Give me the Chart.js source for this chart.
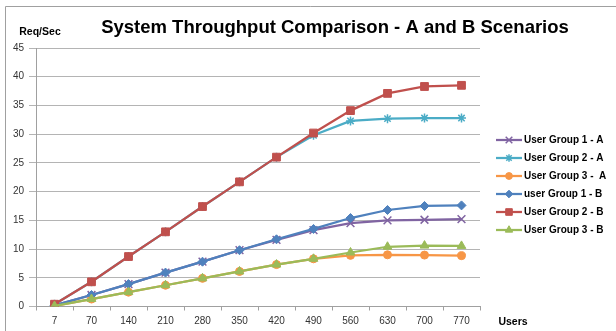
<!DOCTYPE html>
<html>
<head>
<meta charset="utf-8">
<script src="https://cdn.jsdelivr.net/npm/chart.js@4.4.1/dist/chart.umd.min.js"></script>
<style>
  html, body { margin: 0; padding: 0; background: #fff; }
  #wrap { width: 616px; height: 331px; }
</style>
</head>
<body>
<div id="wrap"><canvas id="throughputChart" width="616" height="331"></canvas></div>
<script>
// users on the x axis
var users = ['7', '70', '140', '210', '280', '350', '420', '490', '560', '630', '700', '770'];

// req/sec
var group1A = [0.2, 2.0, 3.9, 5.9, 7.8, 9.8, 11.6, 13.3, 14.5, 15.0, 15.1, 15.2];
var group2A = [0.4, 4.3, 8.7, 13.0, 17.4, 21.7, 26.0, 29.8, 32.3, 32.7, 32.8, 32.8];
var group3A = [0.1, 1.3, 2.5, 3.7, 4.9, 6.1, 7.3, 8.3, 8.9, 9.0, 8.95, 8.85];
var group1B = [0.2, 2.0, 3.9, 5.9, 7.8, 9.8, 11.7, 13.5, 15.4, 16.8, 17.5, 17.6];
var group2B = [0.4, 4.3, 8.7, 13.0, 17.4, 21.7, 26.0, 30.2, 34.1, 37.1, 38.3, 38.5];
var group3B = [0.1, 1.3, 2.5, 3.7, 4.9, 6.1, 7.3, 8.3, 9.4, 10.4, 10.6, 10.55];

var yTicks = [0, 5, 10, 15, 20, 25, 30, 35, 40, 45];

var seriesNames = ['User Group 1 - A', 'User Group 2 - A', 'User Group 3 -  A', 'user Group 1 - B', 'User Group 2 - B', 'User Group 3 - B'];

var fontName = '"Liberation Sans", Arial, sans-serif';

function makeSet(label, data, color, style, radius) {
  return {
    label: label,
    data: data,
    borderColor: color,
    backgroundColor: color,
    borderWidth: 2.25,
    pointStyle: style,
    pointRadius: radius,
    pointHoverRadius: radius,
    pointBorderWidth: (style == 'star' || style == 'crossRot') ? 1.5 : 1,
    pointBackgroundColor: color,
    pointBorderColor: color,
    tension: 0
  };
}

var datasets = [
  makeSet(seriesNames[0], group1A, '#8064A2', 'crossRot', 5.5),
  makeSet(seriesNames[1], group2A, '#4BACC6', 'star', 4.5),
  makeSet(seriesNames[2], group3A, '#F79646', 'circle', 4),
  makeSet(seriesNames[3], group1B, '#4F81BD', 'rectRot', 4.5),
  makeSet(seriesNames[4], group2B, '#C0504D', 'rect', 5.5),
  makeSet(seriesNames[5], group3B, '#9BBB59', 'triangle', 5)
];
// later series drawn on top, like the original
datasets.forEach(function (d, i) { d.order = datasets.length - i; });

var frameAndText = {
  id: 'frameAndText',
  beforeDraw: function (chart) {
    var ctx = chart.ctx;
    ctx.save();
    ctx.fillStyle = '#ffffff';
    ctx.fillRect(0, 0, chart.width, chart.height);
    ctx.strokeStyle = '#a0a0a0';
    ctx.lineWidth = 1;
    ctx.beginPath();
    ctx.moveTo(5.5, 331);
    ctx.lineTo(5.5, 6.5);
    ctx.lineTo(616, 6.5);
    ctx.stroke();
    ctx.restore();
  },
  afterDraw: function (chart) {
    var ctx = chart.ctx;
    ctx.save();
    ctx.fillStyle = '#000';
    ctx.textAlign = 'center';
    ctx.textBaseline = 'alphabetic';
    ctx.font = 'bold 18.5px ' + fontName;
    ctx.fillText('System Throughput Comparison - A and B Scenarios', 335, 33);
    ctx.font = 'bold 10.5px ' + fontName;
    ctx.fillText('Req/Sec', 40, 35);
    ctx.fillText('Users', 513, 325);

    // legend: line with marker, then label
    ctx.font = 'bold 10px ' + fontName;
    ctx.textAlign = 'left';
    ctx.textBaseline = 'middle';
    chart.data.datasets.forEach(function (ds, i) {
      var y = 140 + i * 18;
      ctx.strokeStyle = ds.borderColor;
      ctx.lineWidth = 2.25;
      ctx.beginPath();
      ctx.moveTo(496, y);
      ctx.lineTo(522, y);
      ctx.stroke();
      if (Chart.helpers && Chart.helpers.drawPoint) {
        ctx.fillStyle = ds.backgroundColor;
        ctx.lineWidth = ds.pointBorderWidth;
        Chart.helpers.drawPoint(ctx, {
          pointStyle: ds.pointStyle,
          radius: ds.pointRadius * 0.85,
          rotation: 0,
          borderWidth: ds.pointBorderWidth
        }, 509, y);
      }
      ctx.fillStyle = '#000';
      ctx.fillText(ds.label, 524, y + 0.5);
    });
    ctx.restore();
  }
};

new Chart(document.getElementById('throughputChart'), {
  type: 'line',
  data: { labels: users, datasets: datasets },
  options: {
    responsive: false,
    animation: false,
    devicePixelRatio: 1,
    layout: { padding: { left: 0, top: 48, right: 136, bottom: 0 } },
    plugins: {
      legend: { display: false },
      title: { display: false },
      tooltip: { enabled: false }
    },
    scales: {
      x: {
        type: 'category',
        offset: true,
        grid: {
          offset: true,
          drawOnChartArea: false,
          drawTicks: true,
          tickLength: 4,
          color: '#a0a0a0'
        },
        border: { display: true, color: '#a0a0a0', width: 1 },
        ticks: {
          color: '#333',
          padding: 5,
          maxRotation: 0,
          autoSkip: false,
          font: { family: fontName, size: 10 }
        },
        afterFit: function (scale) { scale.height = 24.5; }
      },
      y: {
        min: 0,
        max: 45,
        afterBuildTicks: function (scale) {
          scale.ticks = yTicks.map(function (v) { return { value: v }; });
        },
        grid: {
          color: '#b4b4b4',
          tickLength: 7,
          lineWidth: 1
        },
        border: { display: true, color: '#a0a0a0', width: 1 },
        ticks: {
          color: '#333',
          padding: 5,
          font: { family: fontName, size: 10 }
        },
        afterFit: function (scale) { scale.width = 36; }
      }
    }
  },
  plugins: [frameAndText]
});
</script>
</body>
</html>
